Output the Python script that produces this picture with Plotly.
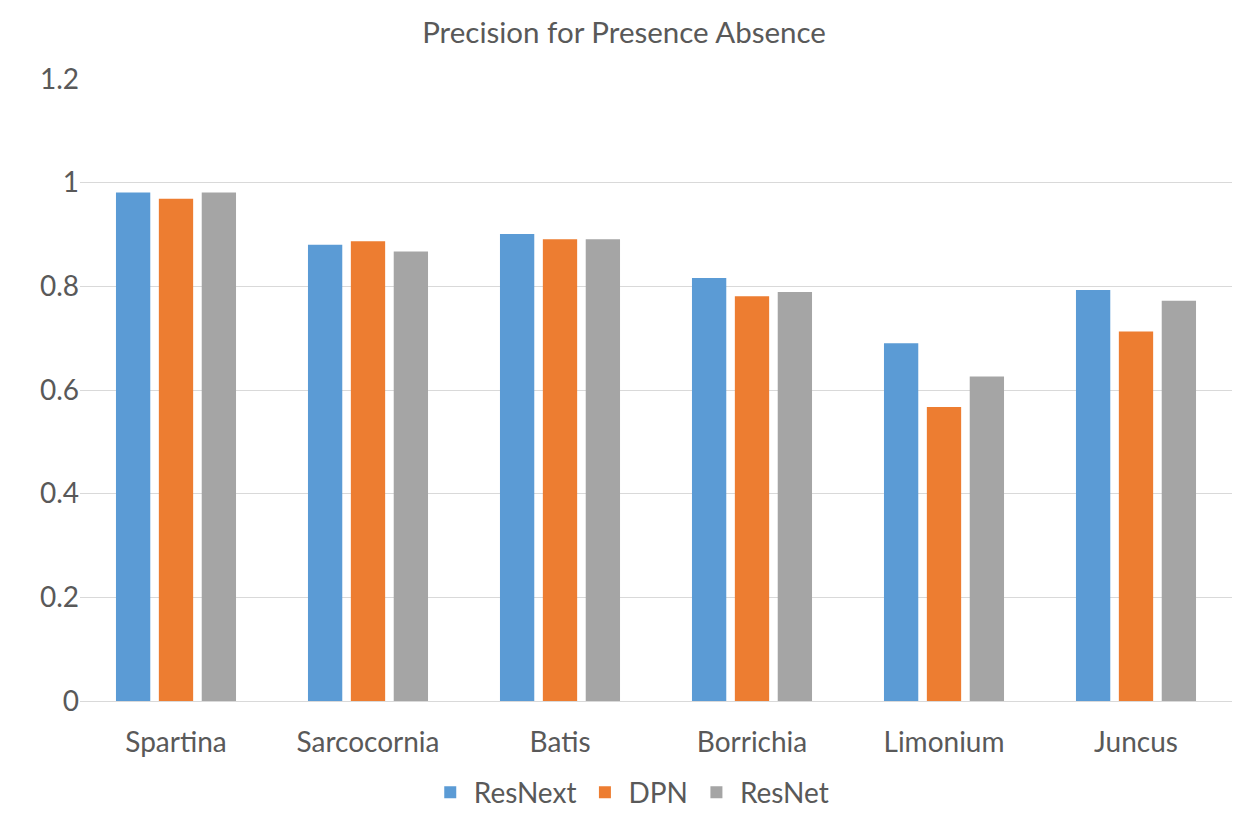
import plotly.graph_objects as go

categories = ["Spartina", "Sarcocornia", "Batis", "Borrichia", "Limonium", "Juncus"]
resnext = [0.981, 0.880, 0.901, 0.816, 0.690, 0.793]
dpn = [0.969, 0.887, 0.891, 0.781, 0.567, 0.713]
resnet = [0.981, 0.867, 0.891, 0.789, 0.626, 0.772]
y_ticks = [0, 0.2, 0.4, 0.6, 0.8, 1.0, 1.2]
y_tick_labels = ["0", "0.2", "0.4", "0.6", "0.8", "1", "1.2"]

font_family = "Lato, 'Open Sans', sans-serif"
text_color = "#595959"

fig = go.Figure()
for name, vals, color in [("ResNext", resnext, "#5B9BD5"),
                          ("DPN", dpn, "#ED7D31"),
                          ("ResNet", resnet, "#A5A5A5")]:
    fig.add_trace(go.Bar(x=categories, y=vals, name=name,
                         marker=dict(color=color, line=dict(width=0))))

fig.update_layout(
    width=1247, height=822,
    paper_bgcolor="white", plot_bgcolor="white",
    margin=dict(l=72, r=23, t=71, b=129, autoexpand=False),
    barmode="group", bargap=0.33, bargroupgap=0.2,
    title=dict(text="Precision for Presence Absence", x=0.494, xanchor="center",
               y=0.97, yanchor="middle",
               font=dict(family=font_family, size=29.5, color=text_color)),
    font=dict(family=font_family, color=text_color),
    xaxis=dict(showgrid=False, showline=True, linecolor="#d9d9d9", linewidth=1,
               ticks="outside", ticklen=16, tickcolor="rgba(255,255,255,0)",
               tickangle=0, automargin=False,
               tickfont=dict(size=28, color=text_color)),
    yaxis=dict(range=[0, 1.2], tickvals=y_ticks, ticktext=y_tick_labels,
               showgrid=True, gridcolor="#d9d9d9", gridwidth=1,
               zeroline=False, showline=False,
               ticks="", automargin=False,
               tickfont=dict(size=28, color=text_color)),
    legend=dict(orientation="h", xref="container", x=0.499, xanchor="center",
                y=-0.107, yanchor="top",
                font=dict(size=28, color=text_color), itemwidth=37,
                traceorder="normal"),
)

fig.write_html("out.html", config={"displayModeBar": False})
